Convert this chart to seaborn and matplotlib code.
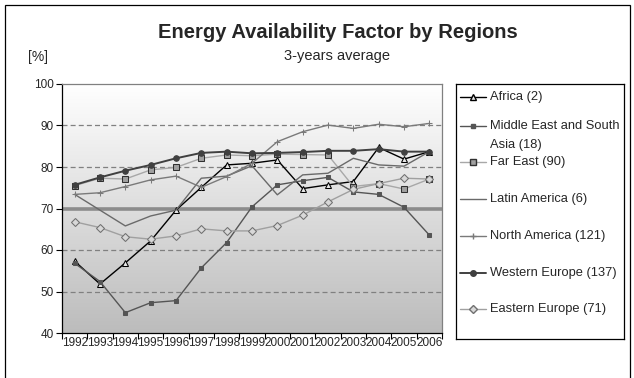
import numpy as np
import pandas as pd
import matplotlib
matplotlib.use("Agg")
import matplotlib.pyplot as plt
import seaborn as sns
from matplotlib.lines import Line2D
from matplotlib.patches import Rectangle
from matplotlib.colors import LinearSegmentedColormap

# ---- data ----
years = list(range(1992, 2007))
year_labels = [str(y) for y in years]
africa = [57.3, 51.8, 56.9, 62.2, 69.6, 75.1, 80.5, 80.9, 81.7, 74.8, 75.7, 76.5, 84.7, 81.9, 83.7]
mideast = [56.8, 52.4, 44.9, 47.3, 47.8, 55.7, 61.8, 70.4, 75.7, 76.7, 77.5, 74.0, 73.4, 70.3, 63.6]
fareast = [75.5, 77.3, 77.1, 79.3, 79.9, 82.1, 82.9, 82.7, 83.1, 83.0, 82.9, 75.3, 76.0, 74.7, 77.1]
latin = [73.4, 69.6, 65.8, 68.2, 69.6, 77.3, 77.8, 80.3, 73.3, 78.1, 78.5, 82.1, 80.5, 80.2, 83.7]
northam = [73.4, 73.8, 75.3, 76.9, 77.8, 75.1, 77.7, 80.9, 86.1, 88.5, 90.1, 89.3, 90.3, 89.7, 90.5]
westeu = [75.7, 77.5, 79.1, 80.5, 82.1, 83.4, 83.7, 83.3, 83.4, 83.6, 83.9, 83.9, 84.3, 83.7, 83.7]
easteu = [66.8, 65.4, 63.2, 62.6, 63.4, 65.1, 64.6, 64.6, 65.9, 68.4, 71.6, 74.6, 76.0, 77.3, 77.1]

labels = ["Africa (2)", "Middle East and South\nAsia (18)", "Far East (90)",
          "Latin America (6)", "North America (121)", "Western Europe (137)",
          "Eastern Europe (71)"]
series_values = [africa, mideast, fareast, latin, northam, westeu, easteu]

styles = [
    dict(color="#000000", marker="^", markersize=5, markerfacecolor="#e8e8e8", markeredgecolor="#000000", linewidth=1.0),
    dict(color="#555555", marker="s", markersize=3, markerfacecolor="#555555", markeredgecolor="#555555", linewidth=1.0),
    dict(color="#a8a8a8", marker="s", markersize=5, markerfacecolor="#a0a0a0", markeredgecolor="#303030", linewidth=1.0),
    dict(color="#6a6a6a", marker="", markersize=0, markerfacecolor="none", markeredgecolor="none", linewidth=1.0),
    dict(color="#7a7a7a", marker="+", markersize=5, markerfacecolor="#7a7a7a", markeredgecolor="#7a7a7a", linewidth=1.0),
    dict(color="#404040", marker="o", markersize=4, markerfacecolor="#404040", markeredgecolor="#404040", linewidth=1.4),
    dict(color="#a0a0a0", marker="D", markersize=4, markerfacecolor="#d8d8d8", markeredgecolor="#707070", linewidth=1.0),
]

sns.set_theme(style="white")
plt.rcParams["font.family"] = ["Liberation Sans", "DejaVu Sans"]

W, H = 634, 378
fig = plt.figure(figsize=(W / 100, H / 100), dpi=100)

def fx(px):
    return px / W

def fy(py):
    return 1 - py / H

L, R, T, B = 62, 442, 84, 333
ax = fig.add_axes([fx(L), fy(B), fx(R) - fx(L), fy(T) - fy(B)])

# gradient background (white at top, gray at bottom)
cmap = LinearSegmentedColormap.from_list("g", ["#ffffff", "#bcbcbc"])
grad = np.linspace(0, 1, 256).reshape(-1, 1)
ax.imshow(grad, cmap=cmap, aspect="auto", extent=[1991.5, 2006.5, 40, 100],
          origin="upper", zorder=0)

for yv in [50, 60, 80, 90]:
    ax.axhline(yv, color="#808080", linestyle=(0, (4, 2.5)), linewidth=0.9, zorder=1)
ax.axhline(70, color="#8c8c8c", linewidth=2.6, zorder=1)

for vals, st in zip(series_values, styles):
    df = pd.DataFrame({"year": years, "value": vals})
    sns.lineplot(data=df, x="year", y="value", ax=ax, legend=False, zorder=3, **st)

ax.set_xlim(1991.5, 2006.5)
ax.set_ylim(40, 100)
ax.set_xlabel("")
ax.set_ylabel("")
ax.set_yticks([40, 50, 60, 70, 80, 90, 100])
ax.set_yticklabels(["40", "50", "60", "70", "80", "90", "100"], fontsize=8.5)
ax.set_xticks(np.arange(1991.5, 2007, 1.0))
ax.set_xticklabels([])
ax.set_xticks(years, minor=True)
ax.set_xticklabels(year_labels, minor=True, fontsize=8.5)
ax.tick_params(axis="x", which="major", direction="out", length=4, width=0.8, color="black", bottom=True)
ax.tick_params(axis="x", which="minor", length=0, pad=3)
ax.tick_params(axis="y", direction="out", length=4, width=0.8, color="black", left=True, pad=2)
for s in ["left", "bottom"]:
    ax.spines[s].set_color("black")
    ax.spines[s].set_linewidth(0.9)
for s in ["top", "right"]:
    ax.spines[s].set_color("#808080")
    ax.spines[s].set_linewidth(0.9)

# titles
fig.text(fx(338), fy(32), "Energy Availability Factor by Regions", ha="center", va="center",
         fontsize=14.5, fontweight="bold")
fig.text(fx(337), fy(56), "3-years average", ha="center", va="center", fontsize=10.5)
fig.text(fx(38), fy(57), "[%]", ha="center", va="center", fontsize=10)

# legend
lx0, lx1, ly0, ly1 = 456, 624, 84, 339
lax = fig.add_axes([fx(lx0), fy(ly1), fx(lx1) - fx(lx0), fy(ly0) - fy(ly1)])
lax.set_xlim(lx0, lx1)
lax.set_ylim(ly1, ly0)
lax.set_xticks([])
lax.set_yticks([])
for s in lax.spines.values():
    s.set_color("black")
    s.set_linewidth(0.9)
lax.set_facecolor("white")
entry_y = [97, 126, 162, 199, 236, 273, 309]
for lab, st, yy in zip(labels, styles, entry_y):
    lax.add_line(Line2D([460, 486], [yy, yy], color=st["color"], linewidth=st["linewidth"]))
    if st["marker"]:
        lax.add_line(Line2D([473], [yy], marker=st["marker"], markersize=st["markersize"],
                            markerfacecolor=st["markerfacecolor"], markeredgecolor=st["markeredgecolor"],
                            linestyle="none"))
    if "\n" in lab:
        first, second = lab.split("\n")
        lax.text(490, yy, first, ha="left", va="center", fontsize=9.3, clip_on=False)
        lax.text(490, yy + 19, second, ha="left", va="center", fontsize=9.3, clip_on=False)
    else:
        lax.text(490, yy, lab, ha="left", va="center", fontsize=9.3, clip_on=False)

# outer border
fig.add_artist(Rectangle((fx(5), fy(380)), fx(630) - fx(5), fy(5) - fy(380), transform=fig.transFigure,
                         fill=False, edgecolor="black", linewidth=0.9))

fig.savefig("out.png", dpi=100)
